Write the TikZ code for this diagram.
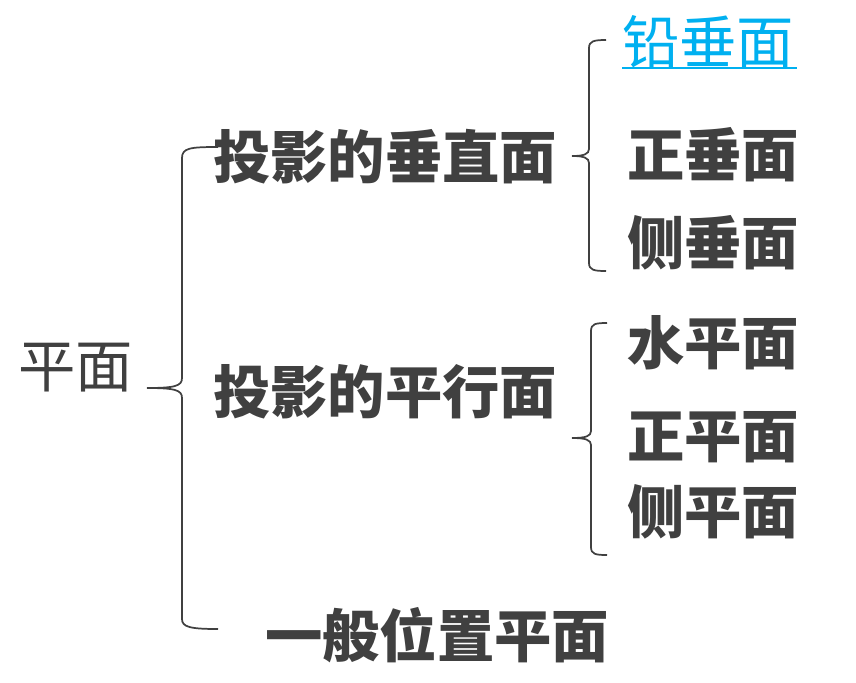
\documentclass[tikz,border=0pt]{standalone}
\usepackage{fontspec}
\newfontfamily\cjk{Noto Sans CJK SC}
\definecolor{txtgray}{HTML}{404040}
\definecolor{linkblue}{HTML}{00B0F0}
\tikzset{
  lbl/.style={anchor=west,inner sep=0pt,text=txtgray,font=\cjk\fontsize{43}{50}\selectfont},
  lblb/.style={lbl,font=\cjk\bfseries\fontsize{43}{50}\selectfont},
  brace/.style={draw=txtgray,line width=1.3pt}
}
\begin{document}
\begin{tikzpicture}[x=0.75pt,y=-0.75pt]
  \useasboundingbox (0,0) rectangle (856,682);

  \node[lbl] (pm) at (18,368) {平面};
  \node[lblb] (cz) at (213,157) {投影的垂直面};
  \node[lblb] (px) at (213,392) {投影的平行面};
  \node[lblb] (yb) at (265,635) {一般位置平面};

  \node[lbl,text=linkblue] (qc) at (622,42) {铅垂面};
  \draw[linkblue,line width=1.5pt] (622,68) -- (797,68);
  \node[lblb] (zc) at (627,155) {正垂面};
  \node[lblb] (cc) at (627,243) {侧垂面};
  \node[lblb] (sp) at (627,343) {水平面};
  \node[lblb] (zp) at (627,437) {正平面};
  \node[lblb] (cp) at (627,512) {侧平面};

  % big brace
  \draw[brace] (218,147) .. controls (190,147) and (182,148) .. (182,158) -- (182,378)
    .. controls (182,386) and (175,388) .. (147,388);
  \draw[brace] (147,388) .. controls (175,388) and (182,390) .. (182,398) -- (182,619)
    .. controls (182,627) and (190,629) .. (218,629);

  % upper brace
  \draw[brace] (606,40) .. controls (594,40) and (589,41) .. (589,48) -- (589,149)
    .. controls (589,154) and (584,156) .. (572,156);
  \draw[brace] (572,156) .. controls (584,156) and (589,158) .. (589,163) -- (589,263)
    .. controls (589,270) and (594,271) .. (606,271);

  % lower brace
  \draw[brace] (607,323) .. controls (595,323) and (591,324) .. (591,331) -- (591,431)
    .. controls (591,436) and (586,438) .. (572,438);
  \draw[brace] (572,438) .. controls (586,438) and (591,440) .. (591,445) -- (591,547)
    .. controls (591,554) and (595,555) .. (607,555);
\end{tikzpicture}
\end{document}
